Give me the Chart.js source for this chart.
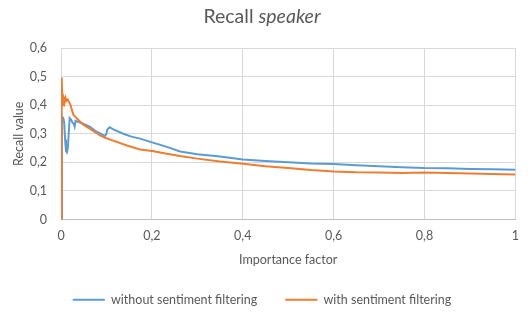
<!DOCTYPE html>
<html>
<head>
<meta charset="utf-8">
<script src="https://cdn.jsdelivr.net/npm/chart.js@4/dist/chart.umd.min.js"></script>
<style>
  html, body { margin: 0; padding: 0; background: #ffffff; }
  #wrap { width: 528px; height: 313px; position: relative; }
</style>
</head>
<body>
<div id="wrap"><canvas id="c" width="528" height="313"></canvas></div>
<script>
// ---- data ----
const titleMain = "Recall ";
const titleItalic = "speaker";
const xAxisTitle = "Importance factor";
const yAxisTitle = "Recall value";
const seriesNames = ["without sentiment filtering", "with sentiment filtering"];

const withoutX = [0.000, 0.002, 0.005, 0.007, 0.009, 0.011, 0.013, 0.015, 0.017, 0.019, 0.022, 0.025, 0.028, 0.030, 0.032, 0.040, 0.049, 0.064, 0.075, 0.086, 0.097, 0.100, 0.102, 0.107, 0.115, 0.137, 0.155, 0.174, 0.204, 0.233, 0.262, 0.30, 0.35, 0.40, 0.45, 0.50, 0.55, 0.60, 0.65, 0.70, 0.75, 0.80, 0.85, 0.90, 0.95, 1.00];
const withoutY = [0.000, 0.360, 0.355, 0.340, 0.280, 0.240, 0.235, 0.250, 0.300, 0.355, 0.350, 0.340, 0.335, 0.325, 0.345, 0.340, 0.335, 0.324, 0.310, 0.301, 0.292, 0.300, 0.315, 0.323, 0.315, 0.300, 0.290, 0.283, 0.268, 0.254, 0.238, 0.228, 0.220, 0.210, 0.205, 0.200, 0.196, 0.194, 0.190, 0.186, 0.183, 0.180, 0.179, 0.177, 0.176, 0.174];

const withX = [0.000, 0.001, 0.002, 0.003, 0.004, 0.005, 0.006, 0.008, 0.010, 0.012, 0.015, 0.018, 0.021, 0.027, 0.035, 0.049, 0.064, 0.086, 0.097, 0.115, 0.145, 0.174, 0.204, 0.233, 0.262, 0.30, 0.35, 0.40, 0.45, 0.50, 0.55, 0.60, 0.65, 0.70, 0.75, 0.80, 0.85, 0.90, 0.95, 1.00];
const withY = [0.000, 0.300, 0.497, 0.420, 0.440, 0.400, 0.430, 0.410, 0.425, 0.415, 0.420, 0.410, 0.400, 0.367, 0.353, 0.332, 0.317, 0.294, 0.286, 0.276, 0.259, 0.245, 0.239, 0.230, 0.222, 0.213, 0.203, 0.195, 0.186, 0.180, 0.173, 0.168, 0.165, 0.164, 0.163, 0.164, 0.163, 0.161, 0.159, 0.157];

const xTicks = [0, 0.2, 0.4, 0.6, 0.8, 1];
const yTicks = [0, 0.1, 0.2, 0.3, 0.4, 0.5, 0.6];
// ------------------------------------------------

const FONT = "Lato";
const TEXT = "#595959";
const GRID = "#d9d9d9";
const BLUE = "#5b9bd5";
const ORANGE = "#ed7d31";

function fmt(v) {
  return (Math.round(v * 10) / 10).toString().replace('.', ',');
}
function pts(xs, ys) { return xs.map((x, i) => ({ x: x, y: ys[i] })); }

const titlePlugin = {
  id: 'mixedTitle',
  afterDraw(chart) {
    const ctx = chart.ctx;
    ctx.save();
    ctx.fillStyle = TEXT;
    ctx.textBaseline = 'alphabetic';
    const fN = "19.5px " + FONT;
    const fI = "italic 19.5px " + FONT;
    ctx.font = fN; const w1 = ctx.measureText(titleMain).width;
    ctx.font = fI; const w2 = ctx.measureText(titleItalic).width;
    const cx = 262;
    let x = cx - (w1 + w2) / 2;
    const y = 23;
    ctx.font = fN; ctx.textAlign = 'left'; ctx.fillText(titleMain, x, y);
    ctx.font = fI; ctx.fillText(titleItalic, x + w1, y);
    ctx.restore();
  }
};

new Chart(document.getElementById('c'), {
  type: 'line',
  data: {
    datasets: [
      { label: seriesNames[0], data: pts(withoutX, withoutY), borderColor: BLUE, backgroundColor: BLUE, borderWidth: 2, pointRadius: 0, tension: 0, order: 2 },
      { label: seriesNames[1], data: pts(withX, withY), borderColor: ORANGE, backgroundColor: ORANGE, borderWidth: 2, pointRadius: 0, tension: 0, order: 1 }
    ]
  },
  options: {
    responsive: false,
    animation: false,
    devicePixelRatio: 1,
    layout: { padding: { left: 8, right: 12, top: 48, bottom: 0 } },
    plugins: {
      title: { display: false },
      tooltip: { enabled: false },
      legend: {
        position: 'bottom',
        maxHeight: 47.5,
        labels: {
          boxWidth: 32, boxHeight: 2, padding: 28,
          color: TEXT, font: { family: FONT, size: 12.5 },
          sort: (a, b) => a.datasetIndex - b.datasetIndex,
          generateLabels: (chart) => Chart.defaults.plugins.legend.labels.generateLabels(chart).map(l => Object.assign(l, { lineWidth: 0 }))
        }
      }
    },
    scales: {
      x: {
        type: 'linear', min: 0, max: 1,
        afterBuildTicks: (s) => { s.ticks = xTicks.map(v => ({ value: v })); },
        afterFit: (s) => { s.height = 46; },
        ticks: { color: TEXT, font: { family: FONT, size: 12.5 }, padding: 9, maxRotation: 0, callback: (v) => fmt(v) },
        grid: { color: GRID, drawTicks: false },
        border: { color: "#bfbfbf" },
        title: { display: true, text: xAxisTitle, color: TEXT, font: { family: FONT, size: 12.5 }, padding: { top: 0, bottom: -2 } }
      },
      y: {
        type: 'linear', min: 0, max: 0.6,
        afterBuildTicks: (s) => { s.ticks = yTicks.map(v => ({ value: v })); },
        afterFit: (s) => { s.width = 53; },
        ticks: { color: TEXT, font: { family: FONT, size: 12.5 }, padding: 14, callback: (v) => fmt(v) },
        grid: { color: GRID, drawTicks: false },
        border: { color: GRID },
        title: { display: true, text: yAxisTitle, color: TEXT, font: { family: FONT, size: 12.5 }, padding: { top: 3, bottom: 0 } }
      }
    }
  },
  plugins: [titlePlugin]
});
</script>
</body>
</html>
